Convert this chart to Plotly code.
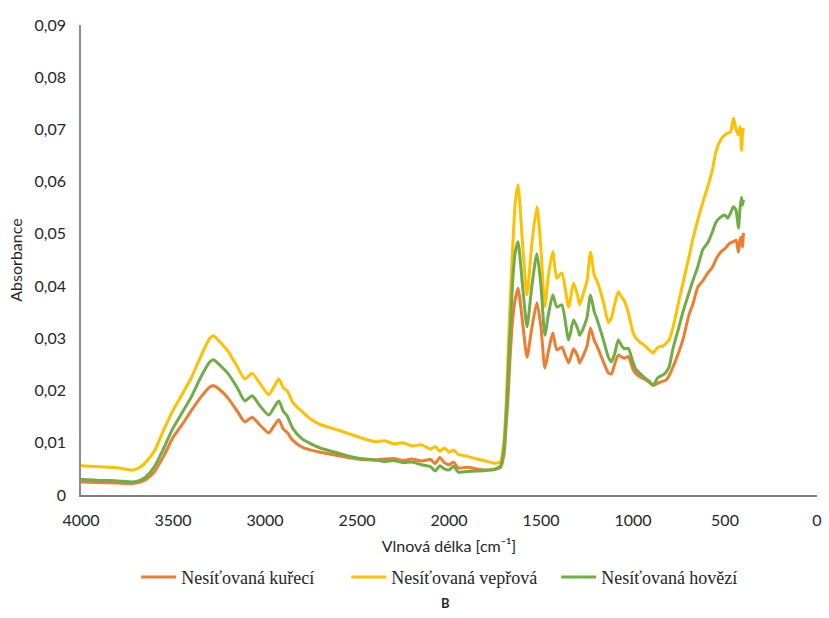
import plotly.graph_objects as go

# Wavenumbers (cm^-1) shared by the three FTIR spectra
wavenumber = [4000, 3900, 3800, 3720, 3680, 3650, 3600, 3550, 3500, 3450, 3400, 3350,
              3300, 3280, 3250, 3200, 3150, 3110, 3070, 3030, 2980, 2950, 2925, 2900,
              2880, 2850, 2800, 2750, 2700, 2600, 2500, 2400, 2350, 2300, 2250, 2200,
              2150, 2100, 2075, 2050, 2025, 2000, 1975, 1950, 1900, 1850, 1800, 1750,
              1720, 1700, 1690, 1680, 1670, 1660, 1650, 1640, 1625, 1600, 1576, 1550,
              1522, 1500, 1479, 1460, 1436, 1414, 1387, 1350, 1323, 1300, 1290, 1269,
              1250, 1231, 1210, 1198, 1161, 1134, 1117, 1100, 1080, 1060, 1047, 1026,
              999, 983, 960, 939, 912, 891, 864, 837, 821, 804, 783, 750, 729, 696,
              675, 648, 621, 594, 567, 551, 524, 500, 486, 470, 454, 440, 427, 418,
              410, 405, 400]

# Absorbance of non-crosslinked chicken sample
kureci = [0.0025, 0.0024, 0.0023, 0.0022, 0.0025, 0.0029, 0.0045, 0.0075, 0.0110, 0.0135,
          0.0162, 0.0187, 0.0207, 0.0209, 0.0203, 0.0185, 0.0160, 0.0140, 0.0149, 0.0135,
          0.0119, 0.0133, 0.0144, 0.0126, 0.0120, 0.0105, 0.0092, 0.0086, 0.0082, 0.0075,
          0.0069, 0.0067, 0.0069, 0.0070, 0.0066, 0.0069, 0.0065, 0.0068, 0.0060, 0.0072,
          0.0062, 0.0058, 0.0063, 0.0052, 0.0053, 0.0050, 0.0048, 0.0049, 0.0053, 0.0080,
          0.0130, 0.0180, 0.0250, 0.0310, 0.0350, 0.0375, 0.0396, 0.0330, 0.0264, 0.0320,
          0.0368, 0.0320, 0.0243, 0.0275, 0.0310, 0.0278, 0.0283, 0.0253, 0.0280, 0.0265,
          0.0253, 0.0268, 0.0285, 0.0320, 0.0295, 0.0287, 0.0255, 0.0234, 0.0232, 0.0250,
          0.0268, 0.0264, 0.0262, 0.0265, 0.0240, 0.0232, 0.0226, 0.0222, 0.0216, 0.0210,
          0.0214, 0.0218, 0.0220, 0.0228, 0.0245, 0.0275, 0.0297, 0.0345, 0.0365, 0.0398,
          0.0410, 0.0425, 0.0437, 0.0450, 0.0465, 0.0472, 0.0478, 0.0483, 0.0485, 0.0488,
          0.0465, 0.0490, 0.0494, 0.0475, 0.0502]

# Absorbance of non-crosslinked pork sample
veprova = [0.0056, 0.0054, 0.0052, 0.0048, 0.0053, 0.0062, 0.0085, 0.0125, 0.0162, 0.0193,
           0.0225, 0.0265, 0.0300, 0.0305, 0.0295, 0.0275, 0.0245, 0.0222, 0.0233, 0.0215,
           0.0192, 0.0208, 0.0222, 0.0205, 0.0200, 0.0178, 0.0160, 0.0145, 0.0135, 0.0124,
           0.0112, 0.0102, 0.0104, 0.0098, 0.0100, 0.0094, 0.0096, 0.0088, 0.0093, 0.0084,
           0.0090, 0.0082, 0.0086, 0.0078, 0.0074, 0.0069, 0.0065, 0.0061, 0.0064, 0.0110,
           0.0170, 0.0260, 0.0350, 0.0430, 0.0500, 0.0560, 0.0594, 0.0480, 0.0383, 0.0480,
           0.0552, 0.0470, 0.0361, 0.0420, 0.0466, 0.0415, 0.0425, 0.0360, 0.0406, 0.0380,
           0.0364, 0.0387, 0.0410, 0.0465, 0.0420, 0.0412, 0.0370, 0.0330, 0.0340, 0.0365,
           0.0389, 0.0378, 0.0372, 0.0350, 0.0310, 0.0300, 0.0292, 0.0287, 0.0278, 0.0272,
           0.0283, 0.0285, 0.0290, 0.0297, 0.0320, 0.0373, 0.0405, 0.0456, 0.0490, 0.0527,
           0.0560, 0.0590, 0.0625, 0.0655, 0.0680, 0.0690, 0.0693, 0.0695, 0.0722, 0.0700,
           0.0690, 0.0705, 0.0660, 0.0690, 0.0703]

# Absorbance of non-crosslinked beef sample
hovezi = [0.0030, 0.0028, 0.0027, 0.0025, 0.0028, 0.0034, 0.0055, 0.0090, 0.0128, 0.0158,
          0.0188, 0.0225, 0.0255, 0.0259, 0.0250, 0.0232, 0.0205, 0.0180, 0.0190, 0.0172,
          0.0153, 0.0168, 0.0180, 0.0160, 0.0152, 0.0128, 0.0108, 0.0098, 0.0090, 0.0080,
          0.0071, 0.0067, 0.0064, 0.0066, 0.0062, 0.0063, 0.0058, 0.0054, 0.0046, 0.0056,
          0.0050, 0.0048, 0.0055, 0.0044, 0.0045, 0.0046, 0.0047, 0.0050, 0.0056, 0.0095,
          0.0150, 0.0220, 0.0300, 0.0370, 0.0430, 0.0465, 0.0485, 0.0400, 0.0322, 0.0400,
          0.0462, 0.0400, 0.0306, 0.0345, 0.0383, 0.0360, 0.0364, 0.0297, 0.0335, 0.0318,
          0.0306, 0.0320, 0.0340, 0.0383, 0.0350, 0.0339, 0.0297, 0.0264, 0.0255, 0.0270,
          0.0297, 0.0285, 0.0280, 0.0281, 0.0253, 0.0240, 0.0232, 0.0225, 0.0218, 0.0210,
          0.0225, 0.0230, 0.0235, 0.0245, 0.0280, 0.0322, 0.0350, 0.0387, 0.0410, 0.0437,
          0.0470, 0.0483, 0.0505, 0.0521, 0.0532, 0.0536, 0.0530, 0.0540, 0.0552, 0.0545,
          0.0511, 0.0550, 0.0570, 0.0555, 0.0565]

x_ticks = [4000, 3500, 3000, 2500, 2000, 1500, 1000, 500, 0]
y_ticks = [0, 0.01, 0.02, 0.03, 0.04, 0.05, 0.06, 0.07, 0.08, 0.09]
y_ticktext = ["0", "0,01", "0,02", "0,03", "0,04", "0,05", "0,06", "0,07", "0,08", "0,09"]

series = [
    ("Nesíťovaná kuřecí", kureci, "#ED7D31"),
    ("Nesíťovaná vepřová", veprova, "#FFC000"),
    ("Nesíťovaná hovězí", hovezi, "#70AD47"),
]

fig = go.Figure()
for name, values, color in series:
    fig.add_trace(go.Scatter(
        x=wavenumber, y=values, name=name, mode="lines",
        line=dict(color=color, width=3, shape="spline", smoothing=0.6),
    ))

sans = "Lato, sans-serif"
tick_font = dict(family=sans, size=16, color="#262626")

fig.update_layout(
    width=829, height=618,
    margin=dict(l=81, r=7, t=25, b=123),
    plot_bgcolor="white", paper_bgcolor="white",
    showlegend=True,
    legend=dict(
        orientation="h", x=0.503, xanchor="center", y=-0.175, yanchor="middle",
        font=dict(family="Liberation Serif, serif", size=18, color="#262626"),
        itemwidth=35, entrywidth=160, tracegroupgap=0,
    ),
    xaxis=dict(
        range=[4000, 0], tickvals=x_ticks, ticktext=[str(v) for v in x_ticks],
        showgrid=False, zeroline=False, showline=True, linecolor="#7f7f7f", linewidth=1.5,
        ticks="", tickfont=tick_font, ticklabelstandoff=10,
        title=dict(text="Vlnová délka [cm⁻¹]", font=dict(family=sans, size=16, color="#262626"),
                   standoff=13),
    ),
    yaxis=dict(
        range=[0, 0.09], tickvals=y_ticks, ticktext=y_ticktext,
        showgrid=False, zeroline=False, showline=True, linecolor="#8c8c8c", linewidth=1.5,
        ticks="", tickfont=tick_font, ticklabelstandoff=10,
        title=dict(text="Absorbance", font=dict(family=sans, size=16, color="#262626"),
                   standoff=8),
    ),
)

fig.add_annotation(
    text="<b>B</b>", xref="paper", yref="paper", x=0.495, y=-0.25,
    showarrow=False, font=dict(family=sans, size=13, color="#262626"),
)

fig.write_html("out.html")
